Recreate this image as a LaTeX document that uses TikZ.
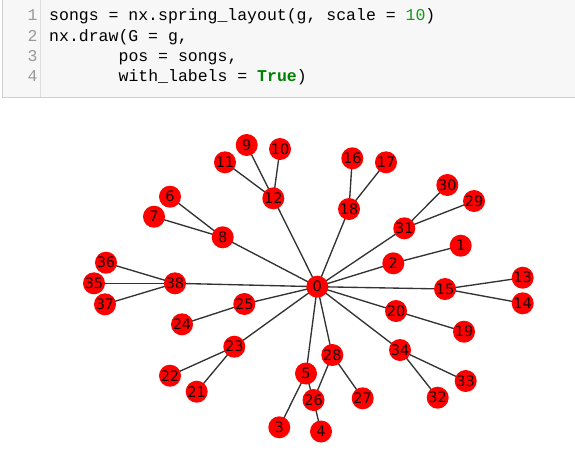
\documentclass[tikz,border=0pt]{standalone}
\usepackage{fontspec}
\newfontfamily\codefont{Liberation Mono}
\newfontfamily\labfont{DejaVu Sans}
\definecolor{codebg}{HTML}{F7F7F7}
\definecolor{codeborder}{HTML}{CFCFCF}
\definecolor{gutterline}{HTML}{DDDDDD}
\definecolor{linenum}{HTML}{999999}
\definecolor{numgreen}{HTML}{119911}
\definecolor{kwgreen}{HTML}{008000}
\definecolor{edgecol}{HTML}{333333}
\definecolor{labcol}{HTML}{1A0000}
\begin{document}
\begin{tikzpicture}[x=1pt,y=-1pt,
  codeline/.style={anchor=base west,inner sep=0pt,font=\codefont\fontsize{16.5}{20}\selectfont},
  lnum/.style={anchor=base,inner sep=0pt,text=linenum,font=\codefont\fontsize{16.5}{20}\selectfont},
  gnode/.style={circle,fill=red,draw=none,minimum size=22pt,inner sep=0pt,text=labcol,font=\labfont\fontsize{14.5}{15}\selectfont},
  gedge/.style={draw=edgecol,line width=1.35pt}]
\useasboundingbox (0,0) rectangle (575,474);
% code cell
\draw[fill=codebg,draw=codeborder,line width=1pt] (2,-5) rectangle (585,97);
\draw[gutterline,line width=1pt] (40.7,-5) -- (40.7,96.5);
\node[lnum] (l1) at (32.7,20.8) {1};
\node[lnum] (l2) at (32.7,41.1) {2};
\node[lnum] (l3) at (32.7,61.4) {3};
\node[lnum] (l4) at (32.7,81.7) {4};
\node[codeline] (c1) at (49,20.8) {songs = nx.spring\_layout(g, scale = \textcolor{numgreen}{10})};
\node[codeline] (c2) at (49,41.1) {nx.draw(G = g,};
\node[codeline] (c3) at (118.4,61.4) {pos = songs,};
\node[codeline] (c4) at (118.4,81.7) {with\_labels = \textcolor{kwgreen}{\bfseries True})};
% graph node coordinates
\coordinate (p0) at (317.3,286.7);
\coordinate (p1) at (460.7,245.7);
\coordinate (p2) at (393.3,263.3);
\coordinate (p3) at (279.3,427.3);
\coordinate (p4) at (321,431.5);
\coordinate (p5) at (306,373.5);
\coordinate (p6) at (170,196.7);
\coordinate (p7) at (154,216.7);
\coordinate (p8) at (222.7,237.3);
\coordinate (p9) at (246.7,145);
\coordinate (p10) at (280,149);
\coordinate (p11) at (225,162.3);
\coordinate (p12) at (273.3,198.3);
\coordinate (p13) at (522.7,277.7);
\coordinate (p14) at (522.7,303.3);
\coordinate (p15) at (445,289);
\coordinate (p16) at (352.3,158.3);
\coordinate (p17) at (386,162.3);
\coordinate (p18) at (349,209);
\coordinate (p19) at (464,331.7);
\coordinate (p20) at (396,311);
\coordinate (p21) at (196.7,391.7);
\coordinate (p22) at (170,375.7);
\coordinate (p23) at (234.3,346.7);
\coordinate (p24) at (182,324.3);
\coordinate (p25) at (244.3,304);
\coordinate (p26) at (313.5,400);
\coordinate (p27) at (362.7,398.3);
\coordinate (p28) at (332.3,355);
\coordinate (p29) at (474,201);
\coordinate (p30) at (447.3,185);
\coordinate (p31) at (404.3,228.3);
\coordinate (p32) at (437.7,397.7);
\coordinate (p33) at (465.7,381);
\coordinate (p34) at (400,350);
\coordinate (p35) at (94,283.3);
\coordinate (p36) at (106,262.7);
\coordinate (p37) at (105,304.3);
\coordinate (p38) at (175,283.3);
% edges
\foreach \a/\b in {0/12,0/8,0/38,0/18,0/31,0/2,0/15,0/20,0/34,0/28,0/5,0/23,0/25,
  12/9,12/10,12/11,8/6,8/7,38/36,38/35,38/37,18/16,18/17,31/30,31/29,2/1,
  15/13,15/14,20/19,34/33,34/32,28/27,28/26,5/3,5/26,26/4,23/22,23/21,25/24}
  \draw[gedge] (p\a) -- (p\b);
% nodes
\foreach \i in {0,...,38}
  \node[gnode] (n\i) at (p\i) {\i};
\end{tikzpicture}
\end{document}
